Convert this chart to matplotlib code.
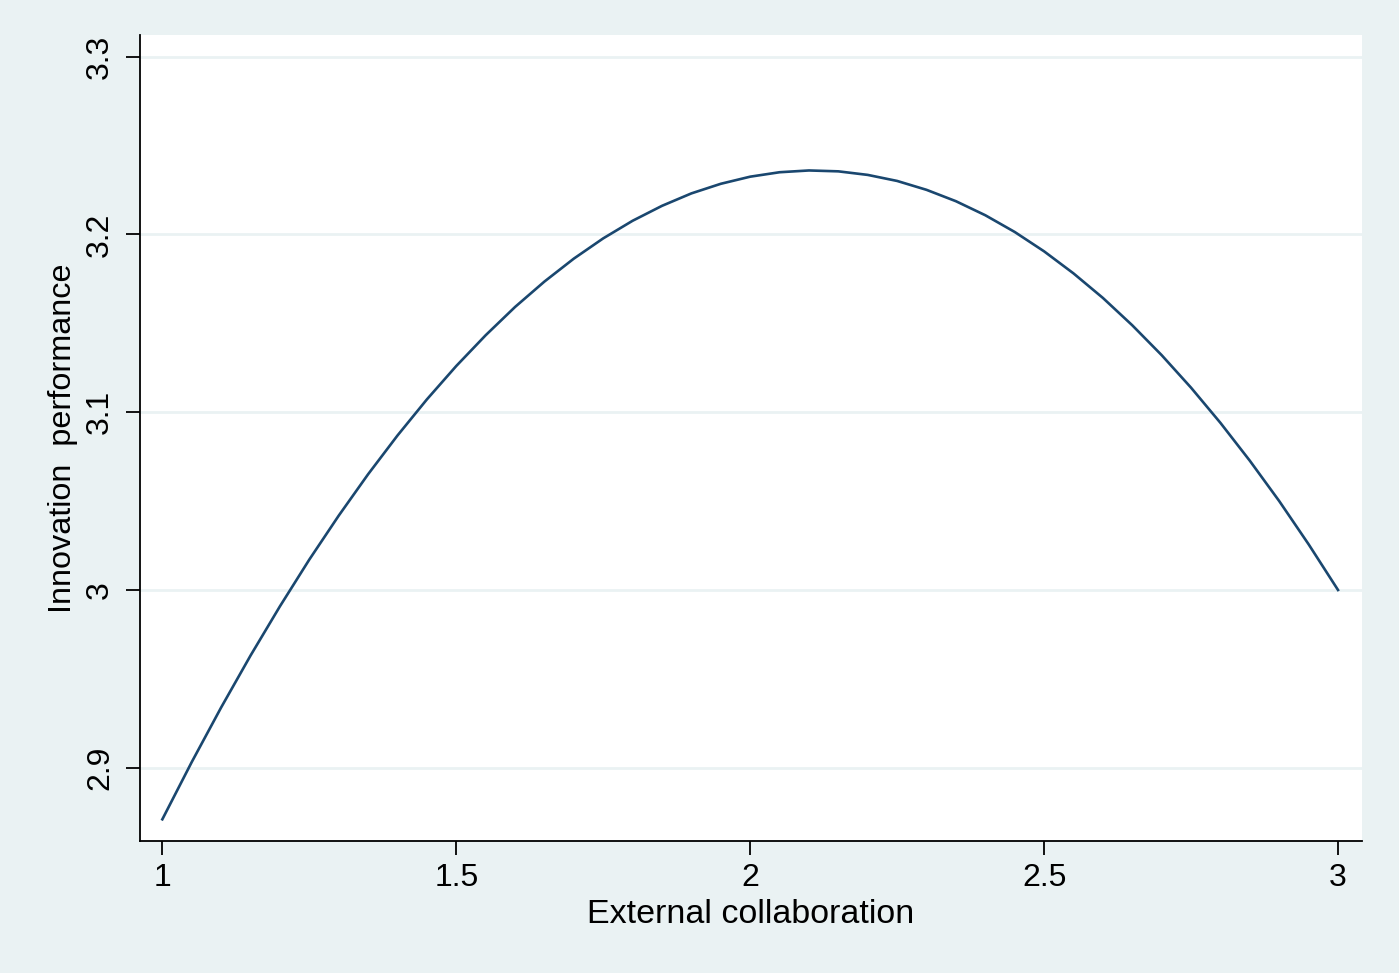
import numpy as np
import matplotlib.pyplot as plt

plt.rcParams["font.family"] = ["Liberation Sans", "DejaVu Sans"]

# values
collab = [1.00, 1.05, 1.10, 1.15, 1.20, 1.25, 1.30, 1.35, 1.40, 1.45, 1.50,
          1.55, 1.60, 1.65, 1.70, 1.75, 1.80, 1.85, 1.90, 1.95, 2.00,
          2.05, 2.10, 2.15, 2.20, 2.25, 2.30, 2.35, 2.40, 2.45, 2.50,
          2.55, 2.60, 2.65, 2.70, 2.75, 2.80, 2.85, 2.90, 2.95, 3.00]
perf = [2.8710, 2.9032, 2.9339, 2.9631, 2.9908, 3.0171, 3.0418, 3.0651, 3.0869, 3.1072, 3.1260,
        3.1433, 3.1592, 3.1735, 3.1864, 3.1978, 3.2077, 3.2161, 3.2231, 3.2285, 3.2325,
        3.2350, 3.2360, 3.2355, 3.2335, 3.2301, 3.2251, 3.2187, 3.2108, 3.2014, 3.1905,
        3.1781, 3.1643, 3.1489, 3.1321, 3.1138, 3.0940, 3.0727, 3.0500, 3.0257, 3.0000]

x_ticks = [1, 1.5, 2, 2.5, 3]
x_ticklabels = ["1", "1.5", "2", "2.5", "3"]
y_ticks = [2.9, 3.0, 3.1, 3.2, 3.3]
y_ticklabels = ["2.9", "3", "3.1", "3.2", "3.3"]

bg = "#eaf2f3"
fig = plt.figure(figsize=(13.99, 9.73), dpi=100, facecolor=bg)
ax = fig.add_axes([140 / 1399, 132 / 973, 1222 / 1399, 806 / 973])
ax.set_facecolor("white")

ax.plot(collab, perf, color="#1a476f", lw=1.9, solid_joinstyle="round")

ax.set_xlim(0.962, 3.0408)
ax.set_ylim(2.8588, 3.3122)
ax.set_xticks(x_ticks)
ax.set_xticklabels(x_ticklabels)
ax.set_yticks(y_ticks)
ax.set_yticklabels(y_ticklabels, rotation=90, va="center")

ax.grid(axis="y", color=bg, lw=2)
ax.set_axisbelow(True)
for s in ["top", "right"]:
    ax.spines[s].set_visible(False)
for s in ["left", "bottom"]:
    ax.spines[s].set_linewidth(1.3)

ax.tick_params(axis="both", direction="out", length=10, width=1.3, labelsize=23)
ax.tick_params(axis="x", pad=6)
ax.tick_params(axis="y", pad=8)

ax.set_xlabel("External collaboration", fontsize=24.5, labelpad=4)
ax.set_ylabel("Innovation  performance", fontsize=23.3, labelpad=5)

plt.savefig("out.png", facecolor=bg)
